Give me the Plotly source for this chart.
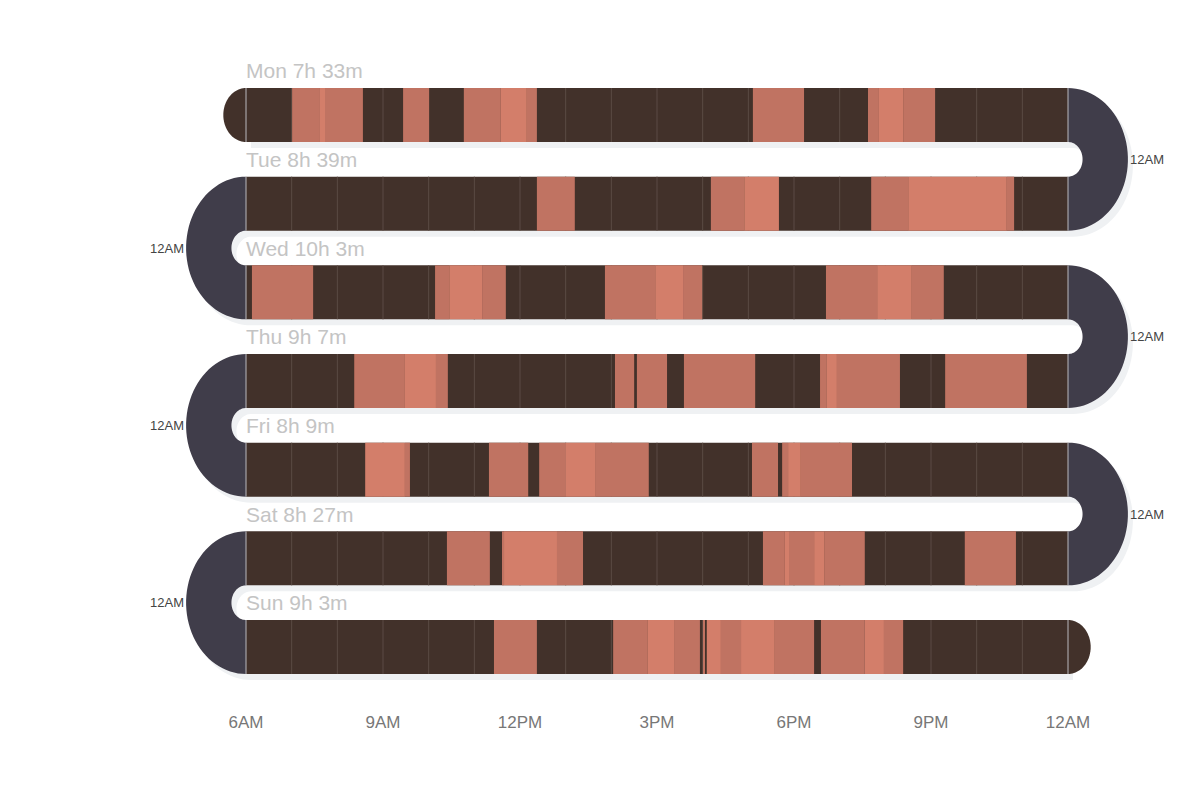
import numpy as np
import plotly.graph_objects as go

# Day rows, top to bottom
days = ["Mon", "Tue", "Wed", "Thu", "Fri", "Sat", "Sun"]
durations = ["7h 33m", "8h 39m", "10h 3m", "9h 7m", "8h 9m", "8h 27m", "9h 3m"]

# Activity segments per day: (start hour, end hour, shade) with shade 0 = deep, 1 = light
mon = [(7.01, 7.62, 0), (7.62, 7.73, 1), (7.73, 8.56, 0), (9.44, 10.01, 0),
       (10.77, 11.58, 0), (11.58, 12.15, 1), (12.15, 12.37, 0), (17.10, 18.22, 0),
       (19.62, 19.86, 0), (19.86, 20.39, 1), (20.39, 21.09, 0)]
tue = [(12.37, 13.20, 0), (16.18, 16.91, 0), (16.91, 17.67, 1), (19.69, 20.50, 0),
       (20.50, 22.66, 1), (22.66, 22.82, 0)]
wed = [(6.13, 7.47, 0), (10.14, 10.45, 0), (10.45, 11.17, 1), (11.17, 11.69, 0),
       (13.86, 14.96, 0), (14.96, 15.57, 1), (15.57, 15.99, 0), (18.70, 19.82, 0),
       (19.82, 20.58, 1), (20.58, 21.28, 0)]
thu = [(8.37, 9.48, 0), (9.48, 10.16, 1), (10.16, 10.42, 0), (14.08, 14.50, 0),
       (14.56, 15.22, 0), (15.59, 17.15, 0), (18.57, 18.72, 0), (18.72, 18.94, 1),
       (18.94, 20.32, 0), (21.31, 23.10, 0)]
fri = [(8.61, 9.48, 1), (9.48, 9.59, 0), (11.32, 12.18, 0), (12.42, 12.99, 0),
       (12.99, 13.66, 1), (13.66, 14.82, 0), (17.08, 17.65, 0), (17.74, 17.87, 0),
       (17.87, 18.15, 1), (18.15, 19.27, 0)]
sat = [(10.40, 11.34, 0), (11.61, 11.65, 0), (11.65, 12.81, 1), (12.81, 13.38, 0),
       (17.32, 17.80, 0), (17.80, 17.89, 1), (17.89, 18.44, 0), (18.44, 18.66, 1),
       (18.66, 19.55, 0), (21.74, 22.86, 0)]
sun = [(11.43, 12.37, 0), (14.04, 14.80, 0), (14.80, 15.39, 1), (15.39, 15.94, 0),
       (16.01, 16.05, 0), (16.09, 16.40, 1), (16.40, 16.84, 0), (16.84, 17.58, 1),
       (17.58, 18.44, 0), (18.59, 19.55, 0), (19.55, 19.97, 1), (19.97, 20.39, 0)]
segments = [mon, tue, wed, thu, fri, sat, sun]

tick_hours = [6, 9, 12, 15, 18, 21, 24]
tick_text = ["6AM", "9AM", "12PM", "3PM", "6PM", "9PM", "12AM"]

DARK = "#42312a"
DEEP = "#c07362"
LIGHT = "#d37e6a"
RING = "#403d4a"
SHADOW = "#eff1f3"
GRID = "#5b4b44"
FONT = "Liberation Sans, Arial, sans-serif"

# pixel geometry of the axes (page body has an 8px margin)
PX_H = 822 / 18          # px per hour
PX_ROW = 88.67           # px per day row
PLOT_H = 702
X0 = 6 - 238 / PX_H
X1 = X0 + 1200 / PX_H
Y_TOP = -107 / PX_ROW
Y_BOT = Y_TOP + PLOT_H / PX_ROW
HALF = 27 / PX_ROW       # half band height
SQUASH = 0.84            # the round ends are a little narrower than tall
SX, SY = 5 / PX_H, 6 / PX_ROW  # shadow offset


def arc(xc, yc, r_px, side, a0, a1, n=48):
    t = np.linspace(a0, a1, n)
    xs = xc + side * np.cos(t) * r_px * SQUASH / PX_H
    ys = yc + np.sin(t) * r_px / PX_ROW
    return list(zip(xs, ys))


def half_ring(xc, yc, r_out, r_in, side):
    pts = arc(xc, yc, r_out, side, -np.pi / 2, np.pi / 2)
    if r_in > 0:
        pts += arc(xc, yc, r_in, side, np.pi / 2, -np.pi / 2)
    return pts


def to_path(pts, dx=0.0, dy=0.0):
    return "M" + "L".join(f"{x + dx:.4f},{y + dy:.4f}" for x, y in pts) + "Z"


r_out = 0.5 * PX_ROW + 27
r_in = 0.5 * PX_ROW - 27
rings = []
for i in range(len(days) - 1):
    if i % 2 == 0:
        rings.append(half_ring(24, i + 0.5, r_out, r_in, 1))
    else:
        rings.append(half_ring(6, i + 0.5, r_out, r_in, -1))
caps = [half_ring(6, 0, 27, 0, -1), half_ring(24, len(days) - 1, 27, 0, 1)]

shapes = []
# drop shadows
for i in range(len(days)):
    shapes.append(dict(type="rect", layer="below", xref="x", yref="y",
                       x0=6 + SX, x1=24 + SX, y0=i - HALF + SY, y1=i + HALF + SY,
                       fillcolor=SHADOW, line_width=0))
for pts in rings:
    shapes.append(dict(type="path", layer="below", xref="x", yref="y",
                       path=to_path(pts, SX, SY), fillcolor=SHADOW, line_width=0))
# bands, turns and end caps
for i in range(len(days)):
    shapes.append(dict(type="rect", layer="below", xref="x", yref="y",
                       x0=6, x1=24, y0=i - HALF, y1=i + HALF,
                       fillcolor=DARK, line_width=0))
for pts in rings:
    shapes.append(dict(type="path", layer="below", xref="x", yref="y",
                       path=to_path(pts), fillcolor=RING, line_width=0))
for pts in caps:
    shapes.append(dict(type="path", layer="below", xref="x", yref="y",
                       path=to_path(pts), fillcolor=DARK, line_width=0))
# hour lines inside each band
for i in range(len(days)):
    for h in range(7, 24):
        shapes.append(dict(type="line", layer="below", xref="x", yref="y",
                           x0=h, x1=h, y0=i - HALF, y1=i + HALF,
                           line=dict(color=GRID, width=1)))
    for h in (6, 24):
        shapes.append(dict(type="line", layer="above", xref="x", yref="y",
                           x0=h, x1=h, y0=i - HALF, y1=i + HALF,
                           line=dict(color="#b9b9bd", width=1)))

fig = go.Figure()
for shade, color in ((0, DEEP), (1, LIGHT)):
    base, length, rows = [], [], []
    for i, segs in enumerate(segments):
        for s, e, k in segs:
            if k == shade:
                base.append(s)
                length.append(e - s)
                rows.append(i)
    fig.add_trace(go.Bar(
        orientation="h", base=base, x=length, y=rows, width=2 * HALF,
        marker=dict(color=color, line=dict(width=0)), hoverinfo="skip",
    ))

annotations = []
for i, (d, t) in enumerate(zip(days, durations)):
    annotations.append(dict(x=6, y=i - 0.5, xref="x", yref="y", text=f"{d} {t}",
                            showarrow=False, xanchor="left", yanchor="middle",
                            xshift=-2,
                            font=dict(family=FONT, size=21, color="#c4c4c4")))
for i in range(len(days) - 1):
    right = i % 2 == 0
    annotations.append(dict(
        x=24 + r_out * SQUASH / PX_H if right else 6 - r_out * SQUASH / PX_H,
        y=i + 0.5, xref="x", yref="y", text="12AM", showarrow=False,
        xanchor="left" if right else "right", yanchor="middle",
        font=dict(family=FONT, size=13, color="#444444")))

fig.update_layout(
    width=1200, height=800,
    margin=dict(l=0, r=0, t=0, b=800 - PLOT_H),
    paper_bgcolor="white", plot_bgcolor="white",
    barmode="overlay", showlegend=False,
    shapes=shapes, annotations=annotations,
    font=dict(family=FONT),
    xaxis=dict(range=[X0, X1], tickvals=tick_hours, ticktext=tick_text,
               showgrid=False, zeroline=False, showline=False, ticks="",
               tickfont=dict(size=17, color="#777777"), fixedrange=True),
    yaxis=dict(range=[Y_BOT, Y_TOP], showgrid=False, zeroline=False,
               showticklabels=False, ticks="", fixedrange=True),
)

fig.write_html("out.html")
